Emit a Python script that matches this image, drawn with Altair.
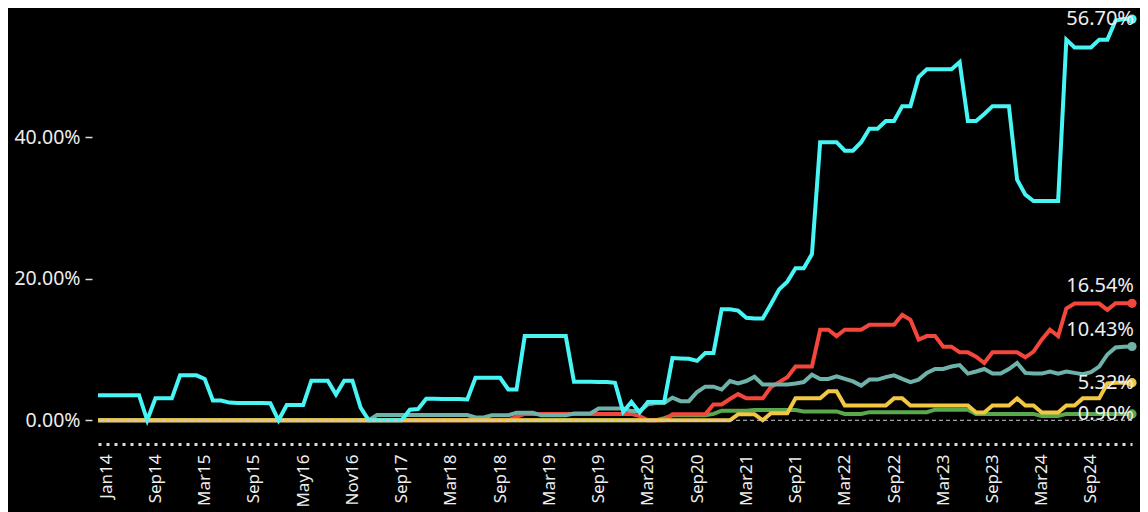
import altair as alt
import pandas as pd

tick_labels = ["Jan14", "Sep14", "Mar15", "Sep15", "May16", "Nov16", "Sep17", "Mar18",
               "Sep18", "Mar19", "Sep19", "Mar20", "Sep20", "Mar21", "Sep21", "Mar22",
               "Sep22", "Mar23", "Sep23", "Mar24", "Sep24"]

series_names = ["cyan", "red", "teal", "yellow", "green"]
series_colors = ["#48F5F5", "#F2473A", "#6FB2AA", "#F2C744", "#5AA84C"]

cyan = ([3.55] * 6 + [0] + [3.1] * 3 + [6.35] * 3 + [5.85] + [2.8] * 2
        + [2.5, 2.45, 2.45, 2.45, 2.45, 2.4] + [0] + [2.15] * 3 + [5.6] * 3 + [3.65]
        + [5.6] * 2 + [1.8] + [0] * 5 + [1.5, 1.6] + [3.05, 3.05, 3.0, 3.0, 3.0, 2.95]
        + [6.0] * 4 + [4.35] * 2 + [11.9] * 6 + [5.45, 5.45, 5.45, 5.4, 5.4, 5.3]
        + [1.2, 2.6, 1.1] + [2.6] * 3 + [8.8, 8.75, 8.7, 8.4, 9.5, 9.5]
        + [15.7, 15.7, 15.5, 14.5, 14.4, 14.4] + [16.4, 18.5, 19.6, 21.5, 21.5, 23.5]
        + [39.3] * 3 + [38.1] * 2 + [39.3] + [41.2] * 2 + [42.3] * 2 + [44.4] * 2
        + [48.5] + [49.6] * 4 + [50.6] + [42.3] * 2 + [43.3] + [44.4] * 3
        + [34.0, 31.9] + [31.0] * 4 + [53.8] + [52.7] * 3 + [53.8] * 2 + [56.5, 56.7, 56.7])

red = ([0] * 51 + [0.5] + [0.9] * 14 + [0.6] + [0] * 3 + [0.85] * 5 + [2.25] * 2
       + [3.0, 3.7] + [3.1] * 3 + [4.7, 5.4, 6.1] + [7.6] * 3 + [12.8] * 2 + [11.9]
       + [12.8] * 3 + [13.5] * 4 + [14.9, 14.2, 11.4] + [11.9] * 2 + [10.4] * 2
       + [9.6] * 2 + [9.0, 8.1] + [9.6] * 4 + [8.9, 9.7, 11.4, 12.8, 11.9, 15.8]
       + [16.5] * 4 + [15.6] + [16.54] * 3)

teal = ([0] * 34 + [0.75] * 12 + [0.4] * 2 + [0.7] * 3 + [1.05] * 3 + [0.7] * 4
        + [0.95] * 3 + [1.65] * 4 + [1.3] * 2 + [2.25] + [2.45] * 2 + [3.2] + [2.7] * 2
        + [4.0] + [4.75] * 2 + [4.35, 5.55, 5.2, 5.55, 6.15] + [5.05] * 4 + [5.2, 5.4, 6.45]
        + [5.85] * 2 + [6.2, 5.85, 5.5, 4.9] + [5.75] * 2 + [6.1, 6.35, 5.85, 5.4, 5.75, 6.7]
        + [7.25] * 2 + [7.6, 7.8, 6.6, 6.9, 7.25] + [6.6] * 2 + [7.25, 8.1, 6.7] + [6.6] * 2
        + [6.9, 6.6, 6.9, 6.7, 6.5, 6.8, 7.6, 9.3, 10.3, 10.4, 10.43])

yellow = ([0] * 78 + [0.85] * 3 + [0] + [1.0] * 3 + [3.1] * 4 + [4.1] * 2 + [2.1] * 6
          + [3.1] * 2 + [2.1] * 8 + [1.1] * 2 + [2.1] * 3 + [3.1] + [2.1] * 2 + [1.1] * 3
          + [2.1] * 2 + [3.1] * 3 + [5.2] + [5.32] * 3)

green = ([0] * 69 + [0.3] + [0.7] * 5 + [0.9] + [1.35] * 4 + [1.45] * 6 + [1.25] * 5
         + [0.9] * 3 + [1.15] * 8 + [1.5] * 5 + [0.9] * 8 + [0.6] * 3 + [0.9] * 9)

values = [cyan, red, teal, yellow, green]

rows = []
for name, vals in zip(series_names, values):
    for i, v in enumerate(vals):
        rows.append({"series": name, "i": i, "value": v})
df = pd.DataFrame(rows)
n_points = len(cyan)

last = pd.DataFrame([{"series": name, "i": len(vals) - 1, "value": vals[-1]}
                     for name, vals in zip(series_names, values)])

label_array = "[" + ",".join("'" + t + "'" for t in tick_labels) + "]"
tick_values = [1 + 6 * k for k in range(len(tick_labels))]

FONT = "Noto Sans"

x_enc = alt.X("i:Q", scale=alt.Scale(domain=[0, n_points - 1], nice=False, zero=False),
              axis=alt.Axis(values=tick_values, labelExpr=label_array + "[(datum.value-1)/6]",
                            labelAngle=-90, ticks=False, labelPadding=10, labelFontSize=17,
                            labelColor="#eeeeee", labelFont=FONT, domainColor="#dddddd",
                            domainDash=[3, 5], domainWidth=3, title=None, grid=False))
y_enc = alt.Y("value:Q", scale=alt.Scale(domain=[-3.35, 57.0], nice=False, zero=False),
              axis=alt.Axis(values=[0, 20, 40], labelExpr="format(datum.value, '.2f') + '%'",
                            domain=False, tickSize=7, tickWidth=1.5, tickColor="#dddddd",
                            offset=6, labelPadding=5, labelFontSize=19.5, labelColor="#eeeeee",
                            labelFont=FONT, title=None, grid=False))
color_enc = alt.Color("series:N", scale=alt.Scale(domain=series_names, range=series_colors),
                      legend=None)

base = alt.Chart(df)
order = ["green", "red", "teal", "yellow", "cyan"]
line_layers = [base.transform_filter(alt.datum.series == s)
               .mark_line(strokeWidth=4)
               .encode(x=x_enc, y=y_enc, color=color_enc) for s in order]

rule = alt.Chart(pd.DataFrame({"value": [0]})).mark_rule(
    color="#cccccc", strokeDash=[4, 3], strokeWidth=1).encode(y=alt.Y("value:Q"))

dots = alt.Chart(last).mark_circle(size=85, opacity=1).encode(
    x="i:Q", y="value:Q", color=color_enc)

lab_up = alt.Chart(last).transform_filter(
    alt.FieldOneOfPredicate(field="series", oneOf=["red", "teal"])
).transform_calculate(lbl="format(datum.value, '.2f') + '%'").mark_text(
    align="right", baseline="alphabetic", dx=2, dy=-11, fontSize=20,
    font=FONT, color="#eeeeee").encode(x="i:Q", y="value:Q", text="lbl:N")

lab_down = alt.Chart(last).transform_filter(
    alt.FieldOneOfPredicate(field="series", oneOf=["cyan", "yellow", "green"])
).transform_calculate(lbl="format(datum.value, '.2f') + '%'").mark_text(
    align="right", baseline="alphabetic", dx=2, dy=6, fontSize=20,
    font=FONT, color="#eeeeee").encode(x="i:Q", y="value:Q", text="lbl:N")

chart = alt.layer(*line_layers, rule, dots, lab_up, lab_down).properties(
    width=1034, height=427,
    autosize=alt.AutoSizeParams(type="none"),
    padding={"left": 90, "top": 9, "right": 8, "bottom": 68},
    background="black",
).configure_view(stroke=None)

chart.save("out.html", embed_options={"renderer": "svg", "actions": False})
